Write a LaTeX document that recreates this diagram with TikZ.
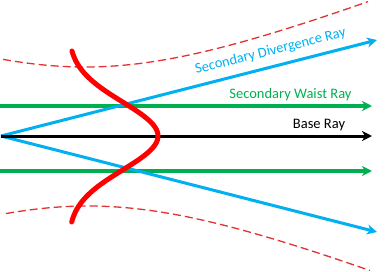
\documentclass[tikz,border=0pt]{standalone}
\usepackage{fontspec}
\setmainfont{Carlito}
\usetikzlibrary{arrows.meta}
\definecolor{rayblue}{RGB}{0,176,240}
\definecolor{raygreen}{RGB}{0,176,80}
\definecolor{envred}{RGB}{226,50,50}
\definecolor{beamred}{RGB}{255,0,0}
\begin{document}
\begin{tikzpicture}[x=1bp,y=-1bp,
  raytip/.style={-{Stealth[length=10bp,width=10bp,inset=3bp]}},
  baseray/.style={raytip,line width=3bp,black},
  waistray/.style={raytip,line width=3.2bp,raygreen},
  divray/.style={raytip,line width=3bp,rayblue},
  envelope/.style={envred,line width=1.3bp,dash pattern=on 8bp off 4bp},
  profile/.style={beamred,line width=5bp,line cap=round},
  lbl/.style={font=\fontsize{14.5bp}{17bp}\selectfont,inner sep=0pt,anchor=base}]
\useasboundingbox (0,0) rectangle (388,272);
% coordinates
\coordinate (O) at (1,136);
\coordinate (bEnd) at (372,136);
\coordinate (wuS) at (0,106);
\coordinate (wuE) at (372,106);
\coordinate (wlS) at (0,171);
\coordinate (wlE) at (372,171);
\coordinate (duE) at (377,40);
\coordinate (dlE) at (377,232);
% envelopes
\draw[envelope] plot[domain=3:368,samples=80] (\x,{136-10*sqrt(47.61+0.166*((\x-85)/10)^2)});
\draw[envelope] plot[domain=6:370,samples=80] (\x,{136+10*sqrt(49+0.166*((\x-88)/10)^2)});
% rays
\draw[waistray] (wuS) -- (wuE);
\draw[waistray] (wlS) -- (wlE);
\draw[divray] (O) -- (duE);
\draw[divray] (O) -- (dlE);
\draw[baseray] (O) -- (bEnd);
% profile
\draw[profile] plot[variable=\t,domain=51:222,samples=80] ({68+90*exp(-0.5*((\t-136)/34)^2)},\t);
% labels
\node[lbl,text=rayblue,rotate=14] (tdiv) at (271.5,55) {Secondary Divergence Ray};
\node[lbl,text=raygreen] (twaist) at (290.5,98) {Secondary Waist Ray};
\node[lbl,text=black] (tbase) at (319,128) {Base Ray};
\end{tikzpicture}
\end{document}
